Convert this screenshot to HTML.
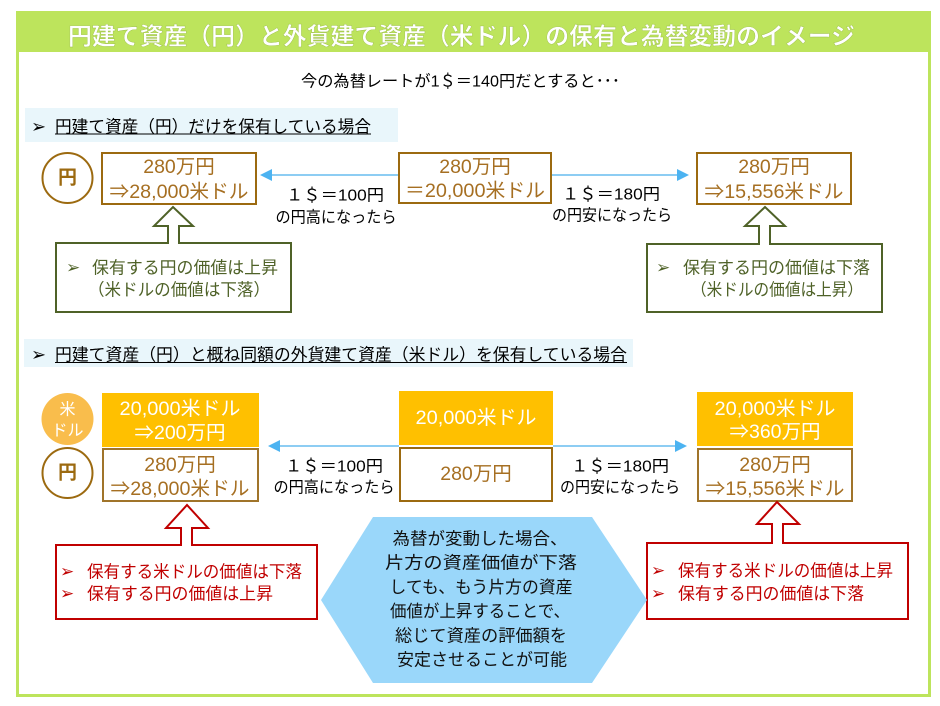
<!DOCTYPE html>
<html><head><meta charset="utf-8">
<style>
html,body{margin:0;padding:0;background:#fff;}
body{width:940px;height:706px;overflow:hidden;}
svg{display:block;}
text{font-family:"Liberation Sans","Noto Sans CJK JP",sans-serif;}
.ar{font-family:"DejaVu Sans","Liberation Sans",sans-serif;}
</style></head>
<body>
<svg width="940" height="706" viewBox="0 0 940 706" xmlns="http://www.w3.org/2000/svg">
<!-- frame -->
<rect x="17.5" y="12.5" width="912" height="683" fill="#fff" stroke="#bde45c" stroke-width="3"/>
<rect x="16" y="11" width="915" height="41" fill="#bde45c"/>
<text x="68" y="37" font-size="24" font-weight="bold" fill="#fff" stroke="#9cbf48" stroke-width="0.4" dominant-baseline="central" textLength="787" lengthAdjust="spacingAndGlyphs">円建て資産（円）と外貨建て資産（米ドル）の保有と為替変動のイメージ</text>

<text x="301" y="82" font-size="16" fill="#000" dominant-baseline="central" textLength="319" lengthAdjust="spacingAndGlyphs">今の為替レートが1＄＝140円だとすると･･･</text>

<!-- section 1 header -->
<rect x="25" y="108" width="373" height="34" fill="#e9f6fb"/>
<text class="ar" x="31" y="127" font-size="18" fill="#000" dominant-baseline="central">➢</text>
<text x="55" y="127" font-size="17" fill="#000" dominant-baseline="central" textLength="316" lengthAdjust="spacingAndGlyphs">円建て資産（円）だけを保有している場合</text>
<line x1="55" y1="134" x2="371" y2="134" stroke="#000" stroke-width="1"/>

<!-- top row -->
<circle cx="67.5" cy="178" r="25" fill="#fff" stroke="#9c6a10" stroke-width="2"/>
<text x="67.5" y="178" font-size="19" font-weight="bold" fill="#9c6a10" text-anchor="middle" dominant-baseline="central">円</text>

<rect x="102" y="153" width="154" height="51" fill="#fff" stroke="#9c6a10" stroke-width="2"/>
<text x="179" y="167" font-size="19.5" fill="#a66f22" text-anchor="middle" dominant-baseline="central">280万円</text>
<text x="179" y="192" font-size="19.5" fill="#a66f22" text-anchor="middle" dominant-baseline="central" textLength="139" lengthAdjust="spacingAndGlyphs">⇒28,000米ドル</text>

<rect x="399" y="153" width="152" height="50" fill="#fff" stroke="#9c6a10" stroke-width="2"/>
<text x="475" y="167" font-size="19.5" fill="#a66f22" text-anchor="middle" dominant-baseline="central">280万円</text>
<text x="475" y="191" font-size="19.5" fill="#a66f22" text-anchor="middle" dominant-baseline="central" textLength="140" lengthAdjust="spacingAndGlyphs">＝20,000米ドル</text>

<rect x="697" y="153" width="154" height="51" fill="#fff" stroke="#9c6a10" stroke-width="2"/>
<text x="774" y="167" font-size="19.5" fill="#a66f22" text-anchor="middle" dominant-baseline="central">280万円</text>
<text x="774" y="192" font-size="19.5" fill="#a66f22" text-anchor="middle" dominant-baseline="central" textLength="139" lengthAdjust="spacingAndGlyphs">⇒15,556米ドル</text>

<!-- top arrows -->
<line x1="271" y1="175" x2="398" y2="175" stroke="#8dcdf3" stroke-width="2"/>
<polygon points="260,175 272,169 272,181" fill="#4cb3f1"/>
<line x1="552" y1="175" x2="678" y2="175" stroke="#8dcdf3" stroke-width="2"/>
<polygon points="689,175 677,169 677,181" fill="#4cb3f1"/>

<text x="335" y="196" font-size="16" fill="#000" text-anchor="middle" dominant-baseline="central" textLength="98" lengthAdjust="spacingAndGlyphs">１＄＝100円</text>
<text x="336" y="218" font-size="16" fill="#000" text-anchor="middle" dominant-baseline="central" textLength="121" lengthAdjust="spacingAndGlyphs">の円高になったら</text>
<text x="611" y="195" font-size="16" fill="#000" text-anchor="middle" dominant-baseline="central" textLength="98" lengthAdjust="spacingAndGlyphs">１＄＝180円</text>
<text x="612" y="216" font-size="16" fill="#000" text-anchor="middle" dominant-baseline="central" textLength="120" lengthAdjust="spacingAndGlyphs">の円安になったら</text>

<!-- olive callouts -->
<polygon points="56,243 168,243 168,226 154,226 173,207 193,226 179,226 179,243 291,243 291,312 56,312" fill="#fff" stroke="#4f6228" stroke-width="2"/>
<text class="ar" x="66" y="268" font-size="17" fill="#4f6228" dominant-baseline="central">➢</text>
<text x="92" y="268" font-size="17" fill="#4f6228" dominant-baseline="central" textLength="186" lengthAdjust="spacingAndGlyphs">保有する円の価値は上昇</text>
<text x="88" y="290" font-size="17" fill="#4f6228" dominant-baseline="central" textLength="182" lengthAdjust="spacingAndGlyphs">（米ドルの価値は下落）</text>

<polygon points="647,244 759,244 759,226 745,226 765,207 785,226 770,226 770,244 882,244 882,312 647,312" fill="#fff" stroke="#4f6228" stroke-width="2"/>
<text class="ar" x="656" y="268" font-size="17" fill="#4f6228" dominant-baseline="central">➢</text>
<text x="683" y="268" font-size="17" fill="#4f6228" dominant-baseline="central" textLength="187" lengthAdjust="spacingAndGlyphs">保有する円の価値は下落</text>
<text x="691" y="290" font-size="17" fill="#4f6228" dominant-baseline="central" textLength="172" lengthAdjust="spacingAndGlyphs">（米ドルの価値は上昇）</text>

<!-- section 2 header -->
<rect x="24" y="339" width="609" height="28" fill="#e9f6fb"/>
<text class="ar" x="31" y="355" font-size="18" fill="#000" dominant-baseline="central">➢</text>
<text x="55" y="355" font-size="17" fill="#000" dominant-baseline="central" textLength="572" lengthAdjust="spacingAndGlyphs">円建て資産（円）と概ね同額の外貨建て資産（米ドル）を保有している場合</text>
<line x1="55" y1="362.5" x2="627" y2="362.5" stroke="#000" stroke-width="1"/>

<!-- bottom row -->
<circle cx="67.5" cy="419" r="26" fill="#f9bd4c"/>
<text x="67.5" y="410" font-size="16" fill="#fff" text-anchor="middle" dominant-baseline="central">米</text>
<text x="67.5" y="431" font-size="16" fill="#fff" text-anchor="middle" dominant-baseline="central">ドル</text>
<circle cx="67.5" cy="473" r="25" fill="#fff" stroke="#9c6a10" stroke-width="2"/>
<text x="67.5" y="473" font-size="19" font-weight="bold" fill="#9c6a10" text-anchor="middle" dominant-baseline="central">円</text>

<rect x="102" y="393" width="157" height="54" fill="#ffc000"/>
<text x="180" y="409" font-size="19.5" fill="#fff" text-anchor="middle" dominant-baseline="central" textLength="121" lengthAdjust="spacingAndGlyphs">20,000米ドル</text>
<text x="180" y="433" font-size="19.5" fill="#fff" text-anchor="middle" dominant-baseline="central">⇒200万円</text>
<rect x="103" y="449" width="155" height="52" fill="#fff" stroke="#a0742a" stroke-width="2"/>
<text x="180" y="465" font-size="19.5" fill="#a66f22" text-anchor="middle" dominant-baseline="central">280万円</text>
<text x="180" y="489" font-size="19.5" fill="#a66f22" text-anchor="middle" dominant-baseline="central" textLength="139" lengthAdjust="spacingAndGlyphs">⇒28,000米ドル</text>

<rect x="399" y="391" width="154" height="54" fill="#ffc000"/>
<text x="476" y="418" font-size="19.5" fill="#fff" text-anchor="middle" dominant-baseline="central" textLength="121" lengthAdjust="spacingAndGlyphs">20,000米ドル</text>
<rect x="400" y="448" width="152" height="53" fill="#fff" stroke="#9c6a10" stroke-width="2"/>
<text x="476" y="474" font-size="19.5" fill="#a66f22" text-anchor="middle" dominant-baseline="central">280万円</text>

<rect x="697" y="392" width="156" height="54" fill="#ffc000"/>
<text x="775" y="409" font-size="19.5" fill="#fff" text-anchor="middle" dominant-baseline="central" textLength="121" lengthAdjust="spacingAndGlyphs">20,000米ドル</text>
<text x="775" y="432" font-size="19.5" fill="#fff" text-anchor="middle" dominant-baseline="central">⇒360万円</text>
<rect x="698" y="449" width="154" height="52" fill="#fff" stroke="#a0742a" stroke-width="2"/>
<text x="775" y="465" font-size="19.5" fill="#a66f22" text-anchor="middle" dominant-baseline="central">280万円</text>
<text x="775" y="489" font-size="19.5" fill="#a66f22" text-anchor="middle" dominant-baseline="central" textLength="139" lengthAdjust="spacingAndGlyphs">⇒15,556米ドル</text>

<!-- bottom arrows -->
<line x1="279" y1="446" x2="399" y2="446" stroke="#8dcdf3" stroke-width="2"/>
<polygon points="268,446 280,440 280,452" fill="#4cb3f1"/>
<line x1="553" y1="446" x2="676" y2="446" stroke="#8dcdf3" stroke-width="2"/>
<polygon points="687,446 675,440 675,452" fill="#4cb3f1"/>

<text x="334" y="467" font-size="16" fill="#000" text-anchor="middle" dominant-baseline="central" textLength="98" lengthAdjust="spacingAndGlyphs">１＄＝100円</text>
<text x="334" y="488" font-size="16" fill="#000" text-anchor="middle" dominant-baseline="central" textLength="121" lengthAdjust="spacingAndGlyphs">の円高になったら</text>
<text x="620" y="467" font-size="16" fill="#000" text-anchor="middle" dominant-baseline="central" textLength="98" lengthAdjust="spacingAndGlyphs">１＄＝180円</text>
<text x="620" y="488" font-size="16" fill="#000" text-anchor="middle" dominant-baseline="central" textLength="120" lengthAdjust="spacingAndGlyphs">の円安になったら</text>

<!-- red callouts -->
<polygon points="56,545 181,545 181,528 166,528 187,505 208,528 192,528 192,545 317,545 317,619 56,619" fill="#fff" stroke="#c00000" stroke-width="2"/>
<text class="ar" x="60" y="572" font-size="17" fill="#c00000" dominant-baseline="central">➢</text>
<text x="87" y="572" font-size="17" fill="#c00000" dominant-baseline="central" textLength="215" lengthAdjust="spacingAndGlyphs">保有する米ドルの価値は下落</text>
<text class="ar" x="60" y="594" font-size="17" fill="#c00000" dominant-baseline="central">➢</text>
<text x="87" y="594" font-size="17" fill="#c00000" dominant-baseline="central" textLength="186" lengthAdjust="spacingAndGlyphs">保有する円の価値は上昇</text>

<polygon points="647,543 772,543 772,524 757,524 777,502 799,524 783,524 783,543 908,543 908,619 647,619" fill="#fff" stroke="#c00000" stroke-width="2"/>
<text class="ar" x="651" y="571" font-size="17" fill="#c00000" dominant-baseline="central">➢</text>
<text x="678" y="571" font-size="17" fill="#c00000" dominant-baseline="central" textLength="215" lengthAdjust="spacingAndGlyphs">保有する米ドルの価値は上昇</text>
<text class="ar" x="651" y="594" font-size="17" fill="#c00000" dominant-baseline="central">➢</text>
<text x="678" y="594" font-size="17" fill="#c00000" dominant-baseline="central" textLength="186" lengthAdjust="spacingAndGlyphs">保有する円の価値は下落</text>

<!-- hexagon -->
<polygon points="321,600 373,517 592,517 647,600 592,683 373,683" fill="#9ad7fa"/>
<g font-size="17" fill="#111" text-anchor="middle">
<text x="480" y="539" dominant-baseline="central" textLength="175" lengthAdjust="spacingAndGlyphs">為替が変動した場合、</text>
<text x="481" y="563" dominant-baseline="central" textLength="192" lengthAdjust="spacingAndGlyphs">片方の資産価値が下落</text>
<text x="481" y="587.5" dominant-baseline="central" textLength="183" lengthAdjust="spacingAndGlyphs">しても、もう片方の資産</text>
<text x="480" y="611.5" dominant-baseline="central" textLength="180" lengthAdjust="spacingAndGlyphs">価値が上昇することで、</text>
<text x="481" y="636" dominant-baseline="central" textLength="172" lengthAdjust="spacingAndGlyphs">総じて資産の評価額を</text>
<text x="482" y="660" dominant-baseline="central" textLength="170" lengthAdjust="spacingAndGlyphs">安定させることが可能</text>
</g>
</svg>
</body></html>
